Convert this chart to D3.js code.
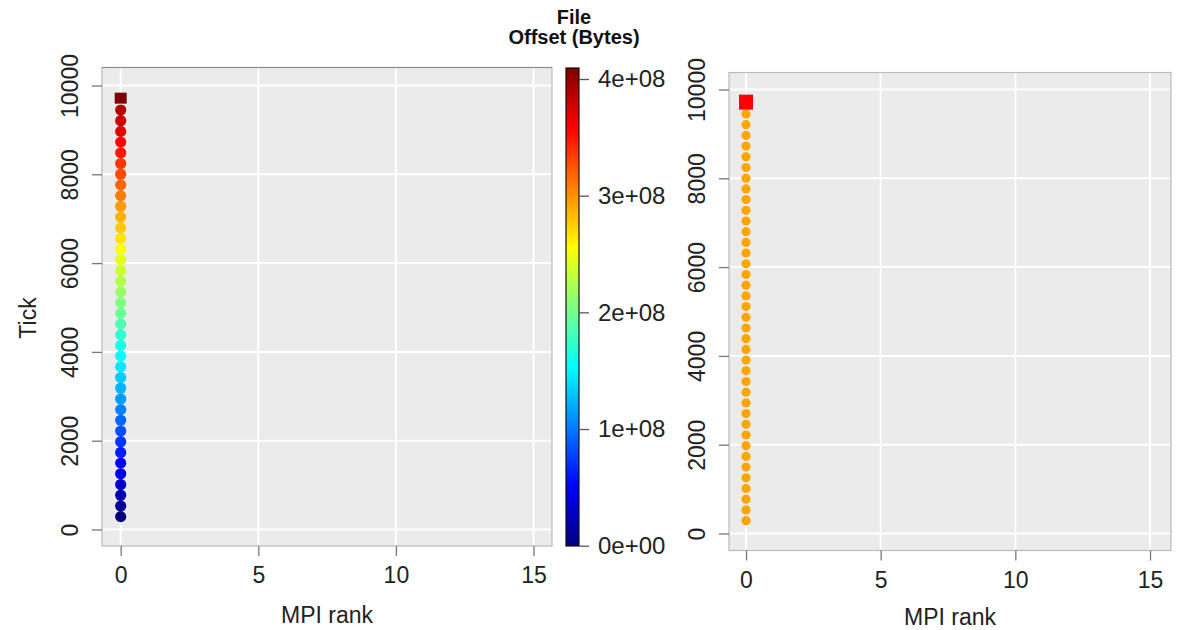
<!DOCTYPE html>
<html>
<head>
<meta charset="utf-8">
<script src="https://cdn.jsdelivr.net/npm/d3@7"></script>
<style>
  body { margin: 0; background: #fff; }
  svg { font-family: "Liberation Sans", Arial, Helvetica, sans-serif; }
</style>
</head>
<body>
<div id="root"></div>
<script>
const WIDTH = 1187;
const HEIGHT = 630;

// data
const ranks = [0, 5, 10, 15];
const tickValues = [0, 2000, 4000, 6000, 8000, 10000];
const circleTicks = [290, 531, 772, 1013, 1254, 1495, 1736, 1977, 2218, 2459, 2700, 2941, 3182,
    3423, 3664, 3905, 4146, 4387, 4628, 4869, 5110, 5351, 5592, 5833, 6074, 6315, 6556,
    6797, 7038, 7279, 7520, 7761, 8002, 8243, 8484, 8725, 8966, 9207, 9448];
const circleOffsets = [0, 10, 21, 31, 41, 51, 62, 72, 82, 92, 103, 113, 123, 133, 144, 154,
    164, 174, 185, 195, 205, 215, 226, 236, 246, 256, 267, 277, 287, 297, 308, 318, 328,
    338, 349, 359, 369, 379, 390].map(d => d * 1e6);
const squareTick = 9715;
const squareOffset = 410e6;
const offsetTicks = [0, 1e8, 2e8, 3e8, 4e8];
const offsetLabels = ["0e+00", "1e+08", "2e+08", "3e+08", "4e+08"];
const circleColorRight = "#FFA500";
const squareColorRight = "#FF0000";

// jet palette
const jetStops = [0, 0.125, 0.375, 0.625, 0.875, 1];
const jetColors = ["#00007F", "#0000FF", "#00FFFF", "#FFFF00", "#FF0000", "#7F0000"];
const jet = d3.scaleLinear().domain(jetStops).range(jetColors).interpolate(d3.interpolateRgb).clamp(true);
const OFFSET_MAX = 410e6;
const offsetColor = v => jet(v / OFFSET_MAX);

const svg = d3.select("#root")
    .append("svg")
    .attr("width", WIDTH)
    .attr("height", HEIGHT);

const points = circleTicks.map((t, i) => ({rank: 0, tick: t, offset: circleOffsets[i]}));

function drawPanel(cfg) {
    const x = d3.scaleLinear().domain([0, 15]).range(cfg.xRange);
    const y = d3.scaleLinear().domain([0, 10000]).range(cfg.yRange);
    const p = cfg.panel;
    const g = svg.append("g");

    g.append("rect")
        .attr("x", p.left).attr("y", p.top)
        .attr("width", p.right - p.left).attr("height", p.bottom - p.top)
        .attr("fill", "#EBEBEB")
        .attr("stroke", "#BBBBBB")
        .attr("stroke-width", 1.2);

    // grid
    g.selectAll(".vgrid").data(ranks).enter().append("line")
        .attr("x1", d => x(d)).attr("x2", d => x(d))
        .attr("y1", p.top + 1).attr("y2", p.bottom - 1)
        .attr("stroke", "#fff").attr("stroke-width", 2);
    g.selectAll(".hgrid").data(tickValues).enter().append("line")
        .attr("y1", d => y(d)).attr("y2", d => y(d))
        .attr("x1", p.left + 1).attr("x2", p.right - 1)
        .attr("stroke", "#fff").attr("stroke-width", 2);

    if (cfg.darkTop) {
        g.append("line")
            .attr("x1", p.left).attr("x2", p.right)
            .attr("y1", p.top).attr("y2", p.top)
            .attr("stroke", "#888").attr("stroke-width", 1.2);
    }

    // axes
    const xAxis = g.append("g")
        .attr("transform", `translate(0, ${p.bottom})`)
        .call(d3.axisBottom(x).tickValues(ranks).tickSize(10).tickFormat(d3.format("d")));
    xAxis.select(".domain").remove();
    xAxis.selectAll(".tick line").attr("stroke", "#777").attr("stroke-width", 1.3);
    xAxis.selectAll(".tick text")
        .attr("y", 37).attr("dy", 0)
        .attr("font-size", 23).attr("fill", "#222");

    const yAxis = g.append("g")
        .attr("transform", `translate(${p.left}, 0)`)
        .call(d3.axisLeft(y).tickValues(tickValues).tickSize(10).tickFormat(d3.format("d")));
    yAxis.select(".domain").remove();
    yAxis.selectAll(".tick line").attr("stroke", "#777").attr("stroke-width", 1.3);
    yAxis.selectAll(".tick text")
        .attr("transform", "rotate(-90)")
        .attr("x", 0).attr("y", -24).attr("dy", 0)
        .attr("text-anchor", "middle")
        .attr("font-size", 23).attr("fill", "#222");

    // marks
    g.selectAll(".point").data(points).enter().append("circle")
        .attr("class", "point")
        .attr("cx", d => x(d.rank))
        .attr("cy", d => y(d.tick))
        .attr("r", cfg.radius)
        .attr("fill", d => cfg.color(d));

    g.append("rect")
        .attr("x", x(0) - cfg.square[0] / 2)
        .attr("y", y(squareTick) - cfg.square[1] / 2)
        .attr("width", cfg.square[0]).attr("height", cfg.square[1])
        .attr("fill", cfg.squareColor);

    g.append("text")
        .attr("x", (p.left + p.right) / 2)
        .attr("y", cfg.titleY)
        .attr("text-anchor", "middle")
        .attr("font-size", 23).attr("fill", "#222")
        .text("MPI rank");
}

drawPanel({
    panel: {left: 102, right: 552, top: 67.5, bottom: 546},
    xRange: [120.7, 533.5],
    yRange: [529.5, 85.5],
    radius: 5.6,
    color: d => offsetColor(d.offset),
    square: [12, 11],
    squareColor: offsetColor(squareOffset),
    titleY: 623,
    darkTop: true
});

drawPanel({
    panel: {left: 729, right: 1171, top: 72.5, bottom: 550.5},
    xRange: [746, 1150],
    yRange: [533.5, 89.5],
    radius: 4.6,
    color: () => circleColorRight,
    square: [14, 15],
    squareColor: squareColorRight,
    titleY: 625,
    darkTop: false
});

// y title
svg.append("text")
    .attr("transform", "translate(36, 318) rotate(-90)")
    .attr("text-anchor", "middle")
    .attr("font-size", 23).attr("fill", "#222")
    .text("Tick");

// colour bar
const cb = {left: 566, right: 579, top: 68, bottom: 546};
const cScale = d3.scaleLinear().domain([0, 4e8]).range([545.7, 79]);
const defs = svg.append("defs");
const grad = defs.append("linearGradient")
    .attr("id", "jetGrad")
    .attr("x1", 0).attr("x2", 0).attr("y1", 1).attr("y2", 0);
grad.selectAll("stop").data(jetStops).enter().append("stop")
    .attr("offset", d => d)
    .attr("stop-color", (d, i) => jetColors[i]);

svg.append("rect")
    .attr("x", cb.left).attr("y", cb.top)
    .attr("width", cb.right - cb.left).attr("height", cb.bottom - cb.top)
    .attr("fill", "url(#jetGrad)")
    .attr("stroke", "#111").attr("stroke-width", 1.2);

const cAxis = svg.append("g")
    .attr("transform", `translate(${cb.right}, 0)`)
    .call(d3.axisRight(cScale).tickValues(offsetTicks).tickSize(10).tickPadding(9)
        .tickFormat((d, i) => offsetLabels[i]));
cAxis.select(".domain").remove();
cAxis.selectAll(".tick line").attr("stroke", "#555").attr("stroke-width", 1.3);
cAxis.selectAll(".tick text").attr("font-size", 24).attr("fill", "#222");

svg.append("text")
    .attr("x", 574).attr("y", 24)
    .attr("text-anchor", "middle")
    .attr("font-size", 20).attr("font-weight", "bold").attr("fill", "#111")
    .text("File");
svg.append("text")
    .attr("x", 574).attr("y", 44)
    .attr("text-anchor", "middle")
    .attr("font-size", 20).attr("font-weight", "bold").attr("fill", "#111")
    .text("Offset (Bytes)");
</script>
</body>
</html>
